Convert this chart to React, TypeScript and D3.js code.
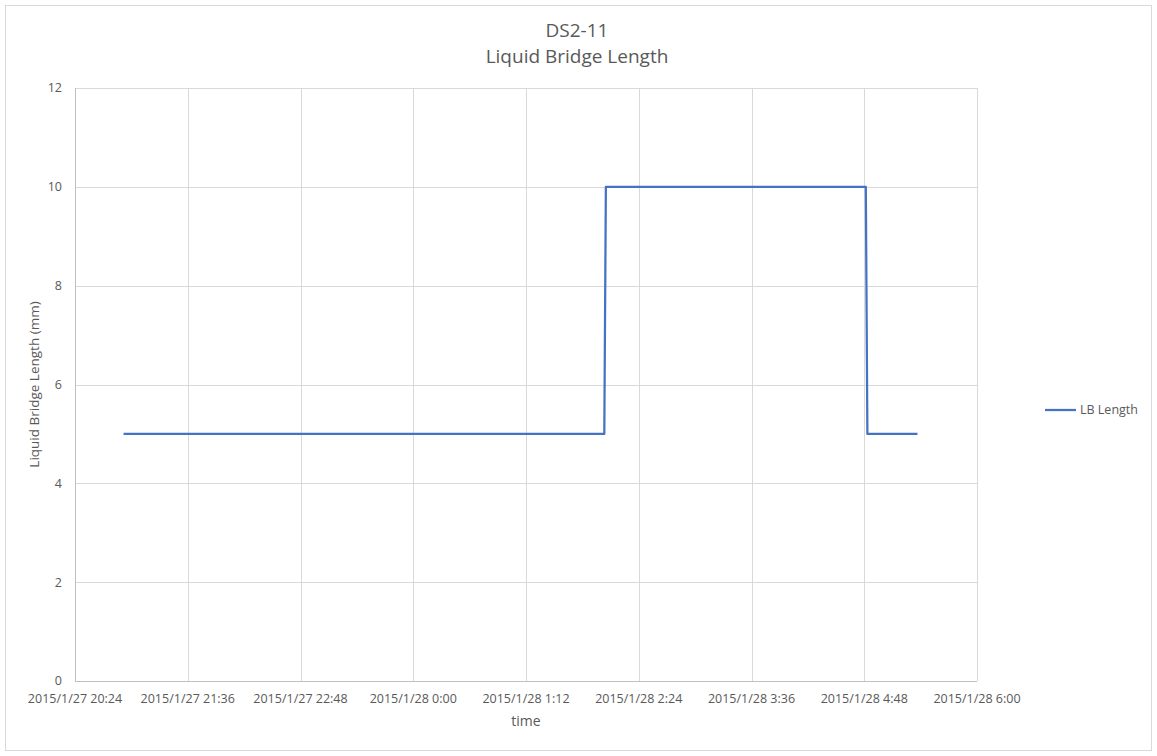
import { useRef, useEffect } from "react";
import * as d3 from "d3";

// series: LB Length (time, mm)
const times: string[] = [
  "2015-01-27T20:55:00",
  "2015-01-28T02:02:00",
  "2015-01-28T02:03:00",
  "2015-01-28T04:49:00",
  "2015-01-28T04:50:00",
  "2015-01-28T05:22:00",
];
const lbLength: number[] = [5, 5, 10, 10, 5, 5];

const xTickLabels: string[] = [
  "2015/1/27 20:24",
  "2015/1/27 21:36",
  "2015/1/27 22:48",
  "2015/1/28 0:00",
  "2015/1/28 1:12",
  "2015/1/28 2:24",
  "2015/1/28 3:36",
  "2015/1/28 4:48",
  "2015/1/28 6:00",
];
const yTicks: number[] = [0, 2, 4, 6, 8, 10, 12];

const W = 1157;
const H = 756;
const margin = { left: 75, right: 180, top: 88, bottom: 75 };
const font = "'Open Sans', 'Noto Sans', sans-serif";
const textColor = "#595959";

export default function App() {
  const svgRef = useRef<SVGSVGElement>(null);

  useEffect(() => {
    const svgEl = d3.select(svgRef.current as SVGSVGElement);
    svgEl.selectAll("*").remove();

    const innerW = W - margin.left - margin.right;
    const innerH = H - margin.top - margin.bottom;

    // chart area border
    svgEl.append("rect")
      .attr("x", 5.5).attr("y", 5.5)
      .attr("width", W - 11).attr("height", H - 11)
      .attr("fill", "white").attr("stroke", "#d9d9d9");

    const xStart = new Date("2015-01-27T20:24:00");
    const xEnd = new Date("2015-01-28T06:00:00");
    const x = d3.scaleTime().domain([xStart, xEnd]).range([0, innerW]);
    const y = d3.scaleLinear().domain([0, 12]).range([innerH, 0]);
    const tickDates = d3.range(xTickLabels.length).map(i => new Date(+xStart + i * 72 * 60000));

    const g = svgEl.append("g").attr("transform", `translate(${margin.left},${margin.top})`);

    // grid
    g.append("g")
      .selectAll("line")
      .data(yTicks.filter(t => t > 0))
      .join("line")
      .attr("x1", 0).attr("x2", innerW)
      .attr("y1", d => Math.round(y(d)) + 0.5).attr("y2", d => Math.round(y(d)) + 0.5)
      .attr("stroke", "#d9d9d9");
    g.append("g")
      .selectAll("line")
      .data(tickDates.slice(1))
      .join("line")
      .attr("x1", d => Math.round(x(d)) + 0.5).attr("x2", d => Math.round(x(d)) + 0.5)
      .attr("y1", 0).attr("y2", innerH)
      .attr("stroke", "#d9d9d9");

    // axes
    g.append("line")
      .attr("x1", 0.5).attr("x2", 0.5).attr("y1", 0).attr("y2", innerH)
      .attr("stroke", "#bfbfbf");
    g.append("line")
      .attr("x1", 0).attr("x2", innerW).attr("y1", innerH + 0.5).attr("y2", innerH + 0.5)
      .attr("stroke", "#bfbfbf");

    g.append("g")
      .selectAll("text")
      .data(yTicks)
      .join("text")
      .attr("x", -13).attr("y", d => y(d))
      .attr("dy", "0.35em")
      .attr("text-anchor", "end")
      .attr("font-family", font).attr("font-size", 12.5)
      .attr("fill", textColor)
      .text(d => d);

    g.append("g")
      .selectAll("text")
      .data(tickDates)
      .join("text")
      .attr("x", d => x(d)).attr("y", innerH + 22)
      .attr("text-anchor", "middle")
      .attr("font-family", font).attr("font-size", 12.5)
      .attr("fill", textColor)
      .text((d, i) => xTickLabels[i]);

    // series
    const line = d3.line<number>()
      .x(i => x(new Date(times[i])))
      .y(i => y(lbLength[i]));
    g.append("path")
      .datum(d3.range(times.length))
      .attr("d", line)
      .attr("fill", "none")
      .attr("stroke", "#4472C4")
      .attr("stroke-width", 2.25)
      .attr("stroke-linejoin", "round");

    // axis titles
    svgEl.append("text")
      .attr("x", margin.left + innerW / 2).attr("y", 726)
      .attr("text-anchor", "middle")
      .attr("font-family", font).attr("font-size", 14)
      .attr("fill", textColor)
      .text("time");
    svgEl.append("text")
      .attr("transform", `translate(39,${margin.top + innerH / 2}) rotate(-90)`)
      .attr("text-anchor", "middle")
      .attr("font-family", font).attr("font-size", 13.5)
      .attr("fill", textColor)
      .text("Liquid Bridge Length (mm)");

    // title
    const title = svgEl.append("text")
      .attr("text-anchor", "middle")
      .attr("font-family", font).attr("font-size", 19)
      .attr("fill", textColor);
    title.append("tspan").attr("x", 577).attr("y", 37).text("DS2-11");
    title.append("tspan").attr("x", 577).attr("y", 63).text("Liquid Bridge Length");

    // legend
    svgEl.append("line")
      .attr("x1", 1045).attr("x2", 1076).attr("y1", 410).attr("y2", 410)
      .attr("stroke", "#4472C4").attr("stroke-width", 2.25);
    svgEl.append("text")
      .attr("x", 1080).attr("y", 410).attr("dy", "0.35em")
      .attr("font-family", font).attr("font-size", 12.5)
      .attr("fill", textColor)
      .text("LB Length");
  }, []);

  return (
    <svg
      ref={svgRef}
      width={W}
      height={H}
      style={{ position: "absolute", left: 0, top: 0, display: "block" }}
    />
  );
}
